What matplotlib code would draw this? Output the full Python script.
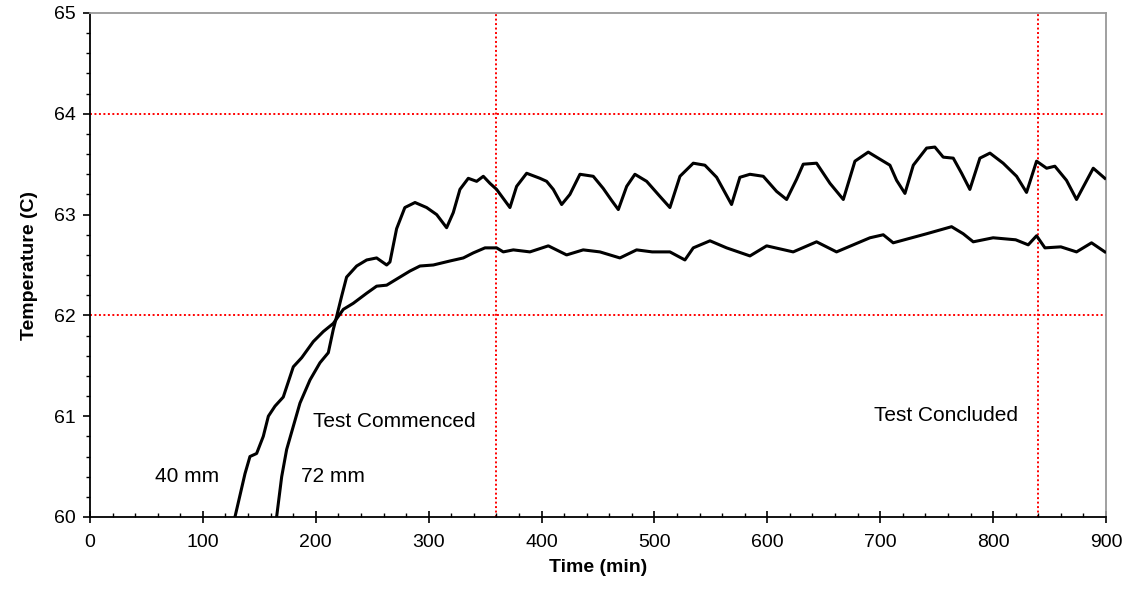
import matplotlib
matplotlib.use("Agg")
import matplotlib.pyplot as plt
from matplotlib.ticker import MultipleLocator

plt.rcParams['font.family'] = ['Liberation Sans', 'DejaVu Sans']

# 72 mm sensor (steep rise, ends on the upper oscillating trace)
t72 = [165.3, 169.8, 174.2, 180.1, 186.0, 194.9, 203.7, 211.1, 215.5, 218.5,
       222.9, 227.3, 236.2, 245.1, 253.9, 262.8, 265.7, 271.6, 278.9, 287.9,
       298.2, 307.1, 315.9, 321.8, 327.7, 335.1, 342.5, 348.4, 354.3, 360.2,
       366.1, 372.0, 377.9, 386.8, 398.6, 404.5, 410.4, 417.8, 425.1, 434.0,
       445.8, 454.6, 462.1, 468.0, 475.4, 482.7, 493.1, 504.9, 513.7, 522.6,
       534.4, 544.7, 555.1, 568.3, 575.7, 584.6, 596.4, 608.2, 617.1, 625.9,
       631.8, 643.6, 655.5, 667.3, 677.6, 689.4, 699.7, 708.6, 714.5, 721.9,
       729.3, 741.1, 748.4, 755.8, 764.7, 772.1, 779.4, 788.3, 797.2, 808.9,
       820.8, 829.6, 838.5, 847.4, 854.7, 865.0, 873.9, 888.7, 899.0]
T72 = [60.00, 60.40, 60.67, 60.90, 61.13, 61.36, 61.53, 61.63, 61.86, 61.99,
       62.19, 62.38, 62.49, 62.55, 62.57, 62.50, 62.53, 62.86, 63.07, 63.12,
       63.07, 63.00, 62.87, 63.02, 63.25, 63.36, 63.33, 63.38, 63.31, 63.25,
       63.16, 63.07, 63.28, 63.41, 63.36, 63.33, 63.25, 63.10, 63.20, 63.40,
       63.38, 63.26, 63.14, 63.05, 63.28, 63.40, 63.33, 63.18, 63.07, 63.38,
       63.51, 63.49, 63.37, 63.10, 63.37, 63.40, 63.38, 63.23, 63.15, 63.35,
       63.50, 63.51, 63.31, 63.15, 63.53, 63.62, 63.55, 63.49, 63.34, 63.21,
       63.49, 63.66, 63.67, 63.57, 63.56, 63.41, 63.25, 63.56, 63.61, 63.51,
       63.38, 63.22, 63.53, 63.46, 63.48, 63.34, 63.15, 63.46, 63.36]

# 40 mm sensor (earlier rise, ends on the flatter lower trace)
t40 = [128.4, 137.3, 141.7, 147.6, 153.5, 158.0, 163.9, 171.2, 180.1, 187.5,
       197.8, 206.7, 215.5, 224.4, 233.2, 245.1, 253.9, 262.8, 271.6, 283.4,
       292.3, 304.1, 318.9, 330.7, 339.5, 349.9, 360.2, 366.1, 375.0, 389.7,
       406.0, 422.2, 436.9, 451.7, 469.4, 484.2, 498.0, 513.7, 527.0, 534.4,
       549.2, 563.9, 584.6, 599.4, 622.9, 643.6, 661.3, 690.9, 702.7, 711.5,
       741.1, 763.2, 773.5, 782.4, 800.0, 820.0, 831.1, 838.5, 845.9, 860.0,
       873.9, 887.2, 899.0]
T40 = [60.00, 60.43, 60.60, 60.63, 60.80, 61.00, 61.10, 61.19, 61.49, 61.58,
       61.74, 61.84, 61.92, 62.06, 62.12, 62.22, 62.29, 62.30, 62.36, 62.44,
       62.49, 62.50, 62.54, 62.57, 62.62, 62.67, 62.67, 62.63, 62.65, 62.63,
       62.69, 62.60, 62.65, 62.63, 62.57, 62.65, 62.63, 62.63, 62.55, 62.67,
       62.74, 62.67, 62.59, 62.69, 62.63, 62.73, 62.63, 62.77, 62.80, 62.72,
       62.81, 62.88, 62.81, 62.73, 62.77, 62.75, 62.70, 62.79, 62.67, 62.68,
       62.63, 62.72, 62.63]

x_ticks = [0, 100, 200, 300, 400, 500, 600, 700, 800, 900]
y_ticks = [60, 61, 62, 63, 64, 65]
h_ref = [62, 64]
v_ref = [360, 840]

fig = plt.figure(figsize=(11.25, 5.89), dpi=100)
ax = fig.add_axes([90/1125, 72/589, 1016/1125, 504/589])

for y in h_ref:
    ax.axhline(y, color='red', linestyle=(0, (1, 1.3)), linewidth=1.4, zorder=1)
for x in v_ref:
    ax.axvline(x, color='red', linestyle=(0, (1, 1.3)), linewidth=1.4, zorder=1)

ax.plot(t40, T40, color='black', linewidth=2.2, zorder=3,
        solid_joinstyle='round')
ax.plot(t72, T72, color='black', linewidth=2.2, zorder=3,
        solid_joinstyle='round')

ax.set_xlim(0, 900)
ax.set_ylim(60, 65)
ax.set_xticks(x_ticks)
ax.set_yticks(y_ticks)
ax.xaxis.set_minor_locator(MultipleLocator(20))
ax.yaxis.set_minor_locator(MultipleLocator(0.2))

ax.tick_params(axis='x', which='major', direction='inout', length=8, width=1.2,
               labelsize=14, pad=8)
ax.tick_params(axis='x', which='minor', direction='in', length=3, width=1.0)
ax.tick_params(axis='y', which='major', direction='out', length=5, width=1.2,
               labelsize=14, pad=5)
ax.tick_params(axis='y', which='minor', direction='out', length=3, width=1.0)

for s in ['left', 'bottom']:
    ax.spines[s].set_color('black')
    ax.spines[s].set_linewidth(1.3)
for s in ['top', 'right']:
    ax.spines[s].set_color('#999999')
    ax.spines[s].set_linewidth(1.3)

ax.set_xlabel('Time (min)', fontsize=14, fontweight='bold', labelpad=6)
ax.set_ylabel('Temperature (C)', fontsize=14, fontweight='bold', labelpad=12)

ax.text(85.6, 60.40, '40 mm', fontsize=15, ha='center', va='center')
ax.text(215.5, 60.40, '72 mm', fontsize=15, ha='center', va='center')
ax.text(197.5, 60.95, 'Test Commenced', fontsize=15, ha='left', va='center')
ax.text(758.5, 61.01, 'Test Concluded', fontsize=15, ha='center', va='center')

fig.savefig('out.png', dpi=100)
